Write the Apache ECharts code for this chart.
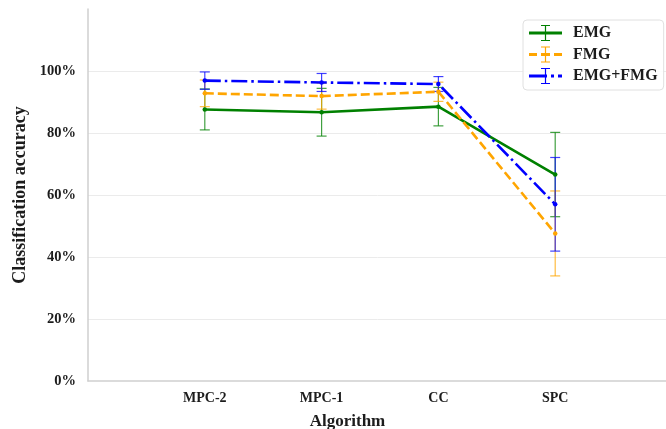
<!DOCTYPE html>
<html>
<head>
<meta charset="utf-8">
<script src="https://cdn.jsdelivr.net/npm/echarts@6/dist/echarts.min.js"></script>
<style>
  html, body { margin: 0; padding: 0; background: #fff; }
  #chart { width: 666px; height: 429px; }
</style>
</head>
<body>
<div id="chart"></div>
<script>
// categories and values (percent)
var categories = ['MPC-2', 'MPC-1', 'CC', 'SPC'];
var yTicks = [0, 20, 40, 60, 80, 100];

var emgMean = [87.6, 86.7, 88.5, 66.6];
var emgErr  = [6.6, 7.7, 6.2, 13.6];
var fmgMean = [92.8, 91.9, 93.3, 47.6];
var fmgErr  = [4.3, 4.2, 3.1, 13.7];
var bothMean = [96.9, 96.3, 95.8, 57.0];
var bothErr  = [2.8, 2.9, 2.4, 15.1];

var FONT = 'Liberation Serif';
var TXT = '#1c1c1c';
var chart = echarts.init(document.getElementById('chart'));

// empty slot at both ends, like the original axis
var axisCats = [''].concat(categories, ['']);

function lineData(mean) {
    return categories.map(function (c, i) { return [c, mean[i]]; });
}
function errData(mean, err) {
    return categories.map(function (c, i) { return [c, mean[i] - err[i], mean[i] + err[i]]; });
}

function errorSeries(name, color, mean, err, z) {
    return {
        name: name + ' err',
        type: 'custom',
        z: z,
        silent: true,
        data: errData(mean, err),
        renderItem: function (params, api) {
            var lo = api.coord([api.value(0), api.value(1)]);
            var hi = api.coord([api.value(0), api.value(2)]);
            var cap = 5;
            var style = { stroke: color, lineWidth: 1.2, opacity: 0.75 };
            return {
                type: 'group',
                children: [
                    { type: 'line', shape: { x1: lo[0], y1: lo[1], x2: hi[0], y2: hi[1] }, style: style },
                    { type: 'line', shape: { x1: lo[0] - cap, y1: lo[1], x2: lo[0] + cap, y2: lo[1] }, style: style },
                    { type: 'line', shape: { x1: hi[0] - cap, y1: hi[1], x2: hi[0] + cap, y2: hi[1] }, style: style }
                ]
            };
        }
    };
}

function lineSeries(name, color, mean, dash, z) {
    return {
        name: name,
        type: 'line',
        z: z,
        data: lineData(mean),
        symbol: 'circle',
        symbolSize: 4.5,
        itemStyle: { color: color },
        lineStyle: { color: color, width: 2.6, type: dash },
        emphasis: { disabled: true }
    };
}

// legend icons: line + error bar (33 x 16 box)
var iconSolid = 'path://M0,6.6H33V9.4H0Z M15.9,0H17.1V16H15.9Z M12,0H21V1H12Z M12,15H21V16H12Z';
var iconDash = 'path://M0,6.6H8V9.4H0Z M12,6.6H21V9.4H12Z M25,6.6H33V9.4H25Z M15.9,0H17.1V16H15.9Z M12,0H21V1H12Z M12,15H21V16H12Z';
var iconDashDot = 'path://M0,6.6H18V9.4H0Z M22,6.6H25V9.4H22Z M29,6.6H33V9.4H29Z M15.9,0H17.1V16H15.9Z M12,0H21V1H12Z M12,15H21V16H12Z';

var option = {
    backgroundColor: '#fff',
    animation: false,
    grid: { left: 88, width: 584, top: 9, height: 372, outerBoundsMode: 'none', containLabel: false },
    legend: {
        orient: 'vertical',
        left: 523,
        top: 20,
        padding: [5, 6, 6, 6],
        itemWidth: 33,
        itemHeight: 16,
        itemGap: 5.5,
        backgroundColor: 'rgba(255,255,255,0.9)',
        borderColor: '#e0e0e0',
        borderWidth: 1,
        borderRadius: 4,
        selectedMode: false,
        textStyle: { fontFamily: FONT, fontWeight: 'bold', fontSize: 16, color: TXT, padding: [0, 0, 0, 6] },
        data: [
            { name: 'EMG', icon: iconSolid, itemStyle: { color: 'green' } },
            { name: 'FMG', icon: iconDash, itemStyle: { color: 'orange' } },
            { name: 'EMG+FMG', icon: iconDashDot, itemStyle: { color: 'blue' } }
        ]
    },
    xAxis: {
        type: 'category',
        data: axisCats,
        boundaryGap: false,
        name: 'Algorithm',
        nameLocation: 'middle',
        nameGap: 32,
        nameTextStyle: { fontFamily: FONT, fontWeight: 'bold', fontSize: 17, color: TXT, padding: [0, 65, 0, 0] },
        axisLine: { lineStyle: { color: '#cfcfcf', width: 1.5 } },
        axisTick: { show: false },
        splitLine: { show: false },
        axisLabel: { fontFamily: FONT, fontWeight: 'bold', fontSize: 14, color: TXT, margin: 10, interval: 0 }
    },
    yAxis: {
        type: 'value',
        min: 0,
        max: 120,
        interval: 20,
        name: 'Classification accuracy',
        nameLocation: 'middle',
        nameGap: 55,
        nameTextStyle: { fontFamily: FONT, fontWeight: 'bold', fontSize: 18, color: TXT },
        axisLine: { show: true, lineStyle: { color: '#cfcfcf', width: 1.5 } },
        axisTick: { show: false },
        splitLine: { show: true, showMinLine: false, showMaxLine: false, lineStyle: { color: '#ebebeb', width: 1 } },
        axisLabel: {
            fontFamily: FONT, fontWeight: 'bold', fontSize: 14.5, color: TXT, margin: 12,
            showMaxLabel: false,
            formatter: function (v) { return yTicks.indexOf(v) >= 0 ? v + '%' : ''; }
        }
    },
    series: [
        errorSeries('EMG', 'green', emgMean, emgErr, 2),
        errorSeries('FMG', 'orange', fmgMean, fmgErr, 2),
        errorSeries('EMG+FMG', 'blue', bothMean, bothErr, 2),
        lineSeries('EMG', 'green', emgMean, 'solid', 3),
        lineSeries('FMG', 'orange', fmgMean, [9, 4], 4),
        lineSeries('EMG+FMG', 'blue', bothMean, [16, 4, 2.5, 4], 5)
    ]
};

chart.setOption(option);
</script>
</body>
</html>
